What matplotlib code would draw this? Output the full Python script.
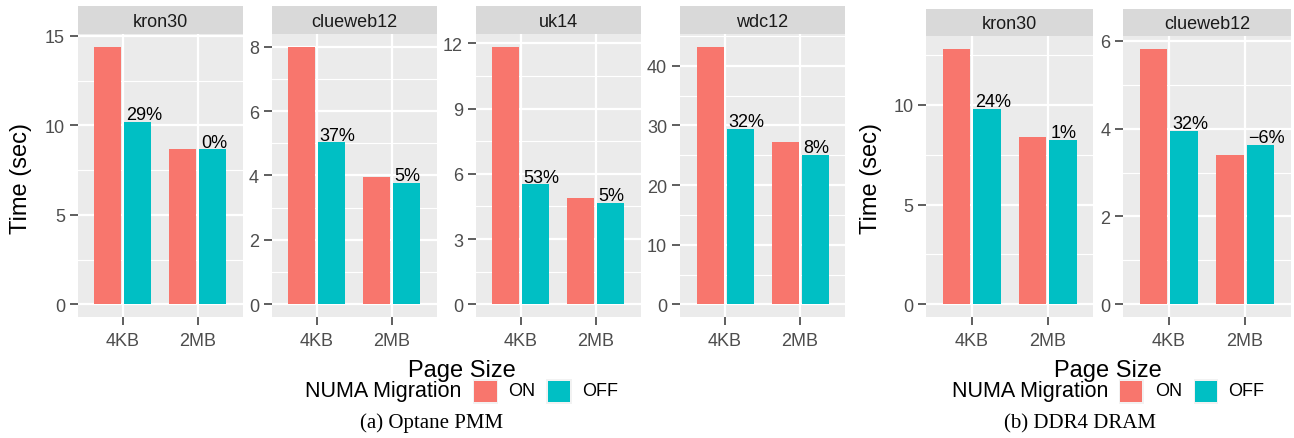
import matplotlib
matplotlib.use("Agg")
import matplotlib.pyplot as plt
from matplotlib.patches import Rectangle
from matplotlib.ticker import MultipleLocator

W, H = 1294, 439
ON_C, OFF_C = "#F8766D", "#00BFC4"
SANS = ["Liberation Sans", "DejaVu Sans"]
SERIF = ["Liberation Serif", "DejaVu Serif"]

PAGE_SIZES = ["4KB", "2MB"]

# (a) Optane PMM
PMM_GRAPHS = ["kron30", "clueweb12", "uk14", "wdc12"]
PMM_ON = [[14.36, 8.66], [7.98, 3.95], [11.82, 4.89], [43.1, 27.2]]
PMM_OFF = [[10.17, 8.66], [5.03, 3.77], [5.52, 4.66], [29.4, 25.05]]
PMM_LABELS = [["29%", "0%"], ["37%", "5%"], ["53%", "5%"], ["32%", "8%"]]
PMM_STEP = [5, 2, 3, 10]

# (b) DDR4 DRAM
DRAM_GRAPHS = ["kron30", "clueweb12"]
DRAM_ON = [[12.79, 8.36], [5.81, 3.40]]
DRAM_OFF = [[9.78, 8.24], [3.94, 3.63]]
DRAM_LABELS = [["24%", "1%"], ["32%", "\u22126%"]]
DRAM_STEP = [5, 2]

plt.rcParams["font.family"] = SANS


def rect(x0, y0, x1, y1):
    return [x0 / W, 1 - y1 / H, (x1 - x0) / W, (y1 - y0) / H]


def fx(x):
    return x / W


def fy(y):
    return 1 - y / H


def facet(fig, xs, strip_top, strip_bot, bottom, name, on, off, labels, step):
    ax = fig.add_axes(rect(xs[0], strip_bot, xs[1], bottom))
    ax.set_facecolor("#EBEBEB")
    for s in ax.spines.values():
        s.set_visible(False)
    pos = range(len(PAGE_SIZES))
    bw = 0.36
    for i in pos:
        ax.bar(i - 0.2, on[i], width=bw, color=ON_C, zorder=3)
        ax.bar(i + 0.2, off[i], width=bw, color=OFF_C, zorder=3)
        ax.annotate(labels[i], (i + 0.2 - bw / 2, off[i]), xytext=(1, 2),
                    textcoords="offset points", ha="left", va="baseline",
                    fontsize=13, color="black", zorder=4)
    m = max(on + off)
    ax.set_ylim(-0.05 * m, 1.05 * m)
    ax.set_xlim(-0.6, len(PAGE_SIZES) - 0.4)
    ax.yaxis.set_major_locator(MultipleLocator(step))
    ax.yaxis.set_minor_locator(MultipleLocator(step / 2))
    ax.set_xticks(list(pos))
    ax.set_xticklabels(PAGE_SIZES)
    ax.grid(True, which="major", color="white", lw=1.6, zorder=1)
    ax.grid(True, which="minor", axis="y", color="white", lw=0.8, zorder=1)
    ax.tick_params(which="major", length=5.8, width=1.1, color="#333333",
                   labelcolor="#4D4D4D", labelsize=13)
    ax.tick_params(axis="y", pad=3.5)
    ax.tick_params(axis="x", pad=5)
    ax.tick_params(which="minor", length=0)
    ax.set_axisbelow(True)

    st = fig.add_axes(rect(xs[0], strip_top, xs[1], strip_bot))
    st.set_facecolor("#D9D9D9")
    st.set_xticks([])
    st.set_yticks([])
    for s in st.spines.values():
        s.set_visible(False)
    st.text(0.5, 0.47, name, ha="center", va="center", fontsize=13,
            color="#1A1A1A", transform=st.transAxes)
    return ax


def legend(fig, title_x, on_key, on_txt, off_key, off_txt):
    yc = 392
    fig.text(fx(title_x), fy(yc), "NUMA Migration", ha="left", va="center",
             fontsize=15.5, color="black")
    for (k0, k1), tx, label, c in [(on_key, on_txt, "ON", ON_C),
                                   (off_key, off_txt, "OFF", OFF_C)]:
        fig.add_artist(Rectangle((fx(k0 - 1.5), fy(404.5)), (k1 - k0 + 3) / W,
                                 24.5 / H, transform=fig.transFigure,
                                 facecolor="#F2F2F2", edgecolor="none"))
        fig.add_artist(Rectangle((fx(k0), fy(403)), (k1 - k0) / W, 21.5 / H,
                                 transform=fig.transFigure, facecolor=c,
                                 edgecolor="none"))
        fig.text(fx(tx), fy(yc), label, ha="left", va="center", fontsize=13,
                 color="black")


fig = plt.figure(figsize=(W / 100, H / 100), dpi=100)

pmm_x = [(78, 243), (272, 436.7), (476, 640.7), (680, 845)]
for j, g in enumerate(PMM_GRAPHS):
    facet(fig, pmm_x[j], 7, 35.4, 318.2, g, PMM_ON[j], PMM_OFF[j],
          PMM_LABELS[j], PMM_STEP[j])

dram_x = [(926.3, 1093.3), (1123.3, 1290.7)]
for j, g in enumerate(DRAM_GRAPHS):
    facet(fig, dram_x[j], 9.5, 37.2, 318.2, g, DRAM_ON[j], DRAM_OFF[j],
          DRAM_LABELS[j], DRAM_STEP[j])

# axis titles
for x in (21, 871):
    fig.text(fx(x), fy(178), "Time (sec)", rotation=90, ha="center",
             va="center", fontsize=17)
for x in (461.7, 1108):
    fig.text(fx(x), fy(377), "Page Size", ha="center", va="baseline",
             fontsize=17)

legend(fig, 305, (474.3, 496.7), 508.3, (547.7, 570), 581.7)
legend(fig, 951.7, (1120, 1142.3), 1155, (1195, 1216.7), 1228.3)

fig.text(fx(431.7), fy(428), "(a) Optane PMM", ha="center", va="baseline",
         fontsize=15, family=SERIF)
fig.text(fx(1080), fy(428), "(b) DDR4 DRAM", ha="center", va="baseline",
         fontsize=15, family=SERIF)

fig.savefig("out.png", dpi=100)
